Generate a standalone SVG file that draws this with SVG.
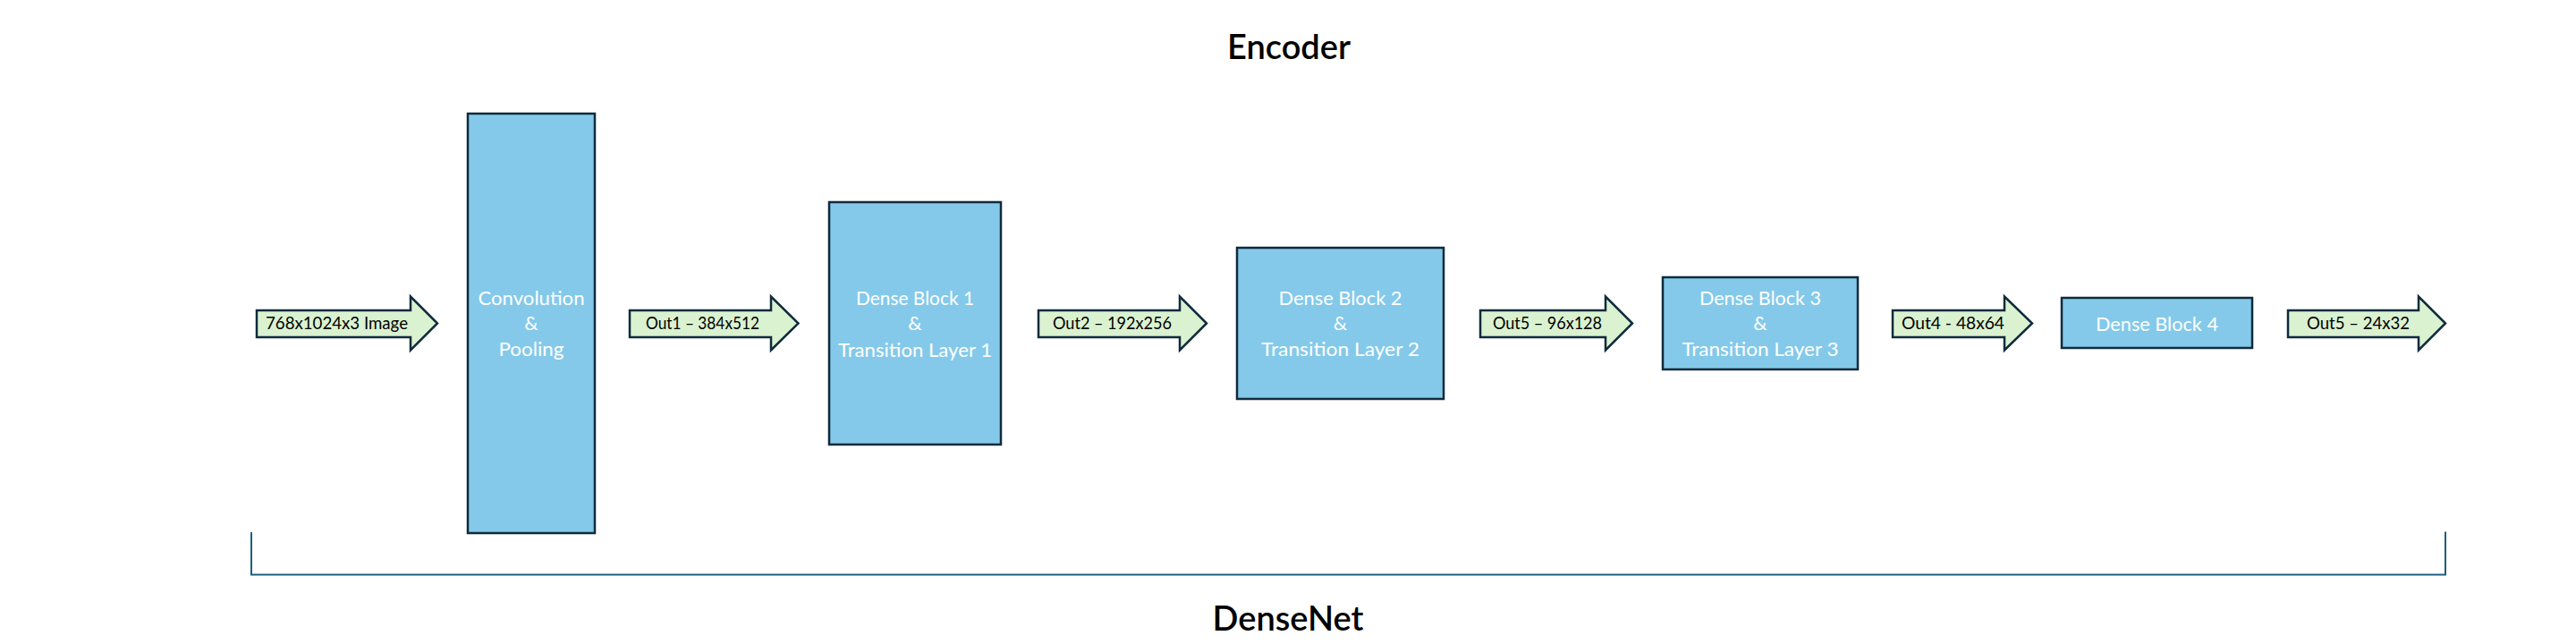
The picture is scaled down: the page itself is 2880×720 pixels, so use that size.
<svg xmlns="http://www.w3.org/2000/svg" width="2880" height="720" viewBox="0 0 2880 720">
<style>
.box{fill:#84C9EA;stroke:#0F2B3C;stroke-width:2.5}
.arr{fill:#DAF2D0;stroke:#0F2B3C;stroke-width:2.5;stroke-linejoin:miter}
.bt{font-family:Lato,"Noto Sans",sans-serif;font-size:21.5px;fill:#FFFFFF;text-anchor:middle}
.at{font-family:Lato,"Noto Sans",sans-serif;font-size:18.5px;fill:#000000}
.title{font-family:Lato,"Noto Sans",sans-serif;font-size:38px;font-weight:600;fill:#000000;text-anchor:middle}
.brk{fill:none;stroke:#1B5F82;stroke-width:2}
</style>
<rect width="2880" height="720" fill="#FFFFFF"/>
<text class="title" x="1441" y="66">Encoder</text>
<g id="connectors">
<g id="arrow-input">
<path class="arr" d="M287,347 H459 V331.5 L489,361.5 L459,391.5 V377 H287 Z"/>
<text class="at" x="297" y="367.5" textLength="159" lengthAdjust="spacingAndGlyphs">768x1024x3 Image</text>
</g>
<g id="arrow-out1">
<path class="arr" d="M704,347 H862 V331.5 L892.5,361.5 L862,391.5 V377 H704 Z"/>
<text class="at" x="722" y="367.5" textLength="127" lengthAdjust="spacingAndGlyphs">Out1 – 384x512</text>
</g>
<g id="arrow-out2">
<path class="arr" d="M1161,347 H1319 V331.5 L1349,361.5 L1319,391.5 V377 H1161 Z"/>
<text class="at" x="1177" y="367.5" textLength="133" lengthAdjust="spacingAndGlyphs">Out2 – 192x256</text>
</g>
<g id="arrow-out3">
<path class="arr" d="M1655,347 H1795 V331.5 L1825,361.5 L1795,391.5 V377 H1655 Z"/>
<text class="at" x="1669" y="367.5" textLength="122" lengthAdjust="spacingAndGlyphs">Out5 – 96x128</text>
</g>
<g id="arrow-out4">
<path class="arr" d="M2116,347 H2241 V331.5 L2272,361.5 L2241,391.5 V377 H2116 Z"/>
<text class="at" x="2126" y="367.5" textLength="115" lengthAdjust="spacingAndGlyphs">Out4 - 48x64</text>
</g>
<g id="arrow-out5">
<path class="arr" d="M2558,347 H2704 V331.5 L2734,361.5 L2704,391.5 V377 H2558 Z"/>
<text class="at" x="2579" y="367.5" textLength="115" lengthAdjust="spacingAndGlyphs">Out5 – 24x32</text>
</g>
</g>
<g id="conv">
<rect class="box" x="523" y="127" width="142" height="469"/>
<text class="bt" x="594" y="340.5" textLength="119" lengthAdjust="spacingAndGlyphs">Convolution</text>
<text class="bt" x="594" y="369">&amp;</text>
<text class="bt" x="594" y="398" textLength="73" lengthAdjust="spacingAndGlyphs">Pooling</text>
</g>
<g id="dense1">
<rect class="box" x="927" y="226" width="192" height="271"/>
<text class="bt" x="1023" y="340.5" textLength="132" lengthAdjust="spacingAndGlyphs">Dense Block 1</text>
<text class="bt" x="1023" y="369">&amp;</text>
<text class="bt" x="1023" y="398.5" textLength="172" lengthAdjust="spacingAndGlyphs">Transition Layer 1</text>
</g>
<g id="dense2">
<rect class="box" x="1383" y="277" width="231" height="169"/>
<text class="bt" x="1498.5" y="340.5" textLength="138" lengthAdjust="spacingAndGlyphs">Dense Block 2</text>
<text class="bt" x="1498.5" y="369">&amp;</text>
<text class="bt" x="1498.5" y="398" textLength="177" lengthAdjust="spacingAndGlyphs">Transition Layer 2</text>
</g>
<g id="dense3">
<rect class="box" x="1859" y="310" width="218" height="103"/>
<text class="bt" x="1968" y="340.5" textLength="136" lengthAdjust="spacingAndGlyphs">Dense Block 3</text>
<text class="bt" x="1968" y="369">&amp;</text>
<text class="bt" x="1968" y="397.5" textLength="175" lengthAdjust="spacingAndGlyphs">Transition Layer 3</text>
</g>
<g id="dense4">
<rect class="box" x="2305" y="333" width="213" height="56"/>
<text class="bt" x="2411.5" y="370" textLength="137" lengthAdjust="spacingAndGlyphs">Dense Block 4</text>
</g>
<g id="bracket">
<path class="brk" d="M281,595 V642.5 H2734 V594.5"/>
</g>
<text class="title" x="1440" y="705">DenseNet</text>
</svg>
